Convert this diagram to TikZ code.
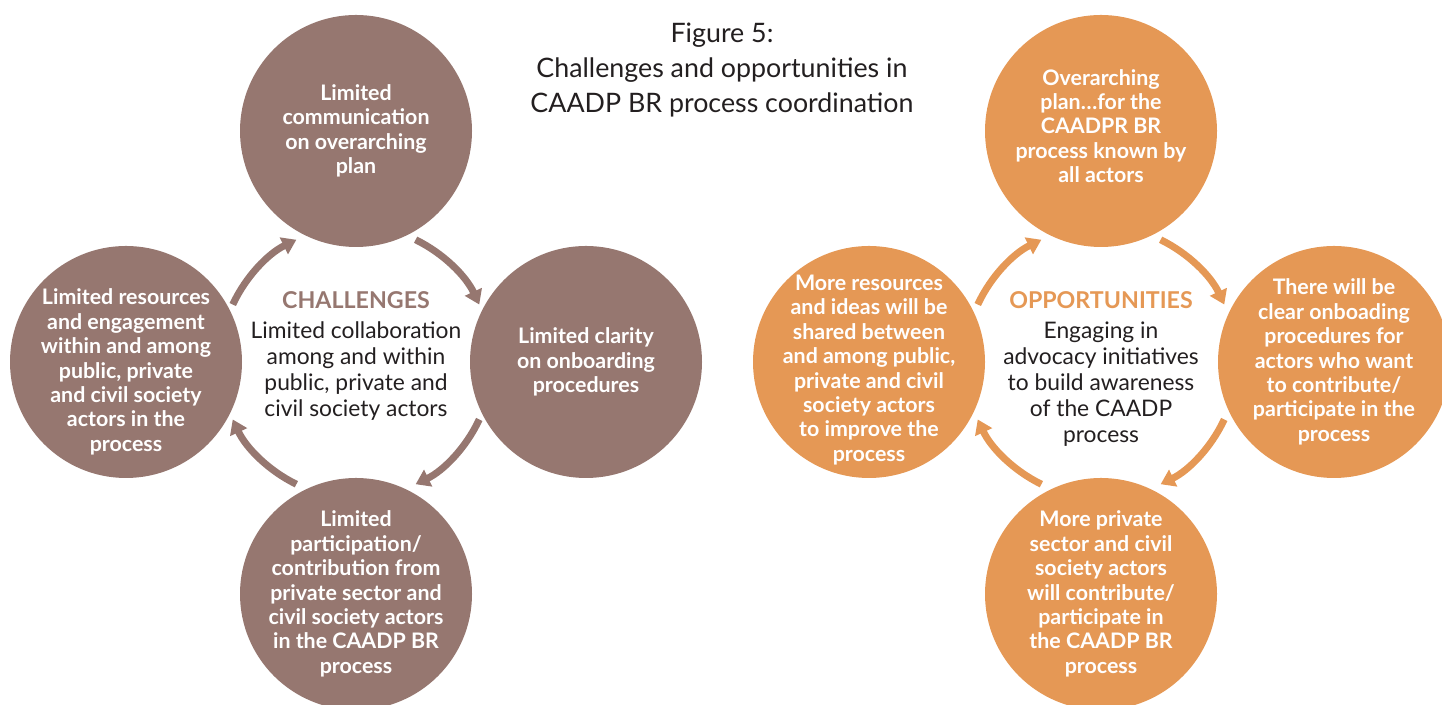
\documentclass[tikz,border=0pt]{standalone}
\usepackage{fontspec}
\setmainfont{Lato}
\usepackage{tikz}
\usetikzlibrary{positioning}
\usetikzlibrary{arrows.meta}
\definecolor{chalbrown}{HTML}{967770}
\definecolor{oppsorange}{HTML}{E59855}
\definecolor{textgrey}{HTML}{231F20}
\tikzstyle{circle1} = [circle, minimum size=116pt, inner sep=-15pt, outer sep=0pt, fill=chalbrown, text=white, align=center, font=\bfseries\fontsize{10.7}{12.2}\selectfont]
\tikzstyle{circle2} = [circle1, fill=oppsorange]
\tikzstyle{midtext} = [align=center, anchor=north, text=textgrey, font=\fontsize{11.4}{13}\selectfont]
\tikzstyle{arrow1} = [-{Triangle[width=9pt,length=7pt]}, line width=3.5pt, chalbrown]
\tikzstyle{arrow2} = [arrow1, oppsorange]

\begin{document}
\begin{tikzpicture}
			\useasboundingbox (0,0) rectangle (721pt,352.5pt);
			\node[align=center, text=textgrey, font=\fontsize{13.4}{17.5}\selectfont] (title) at (361pt,317.5pt) {Figure 5:\\Challenges and opportunities in\\CAADP BR process coordination};
			% challenges
			\coordinate (chalmid) at (178pt,171.5pt);
			\node[midtext] (chal) at ([yshift=39pt]chalmid) {{\bfseries\color{chalbrown}\fontsize{11.6}{13}\selectfont CHALLENGES}\\[2pt]Limited collaboration\\among and within\\public, private and\\civil society actors};
			\node[circle1, above=57.5pt of chalmid](chaltop){Limited\\communication\\on overarching\\plan};
			\node[circle1, right=57pt of chalmid](chalright){Limited clarity\\on onboarding\\procedures};
			\node[circle1, below=58pt of chalmid](chalbottom){Limited\\participation/\\contribution from\\private sector and\\civil society actors\\in the CAADP BR\\process};
			\node[circle1, left=57pt of chalmid](challeft){\rule{0pt}{18pt}Limited resources\\and engagement\\within and among\\public, private\\and civil society\\actors in the\\process};
			\foreach \a in {155,64,-25,-116}
				\draw[arrow1] (chalmid) ++(\a:68pt) arc[start angle=\a, end angle=\a-39, radius=68pt];
			% opportunities
			\coordinate (oppsmid) at (550.5pt,171.5pt);
			\node[midtext] (opps) at ([yshift=39pt]oppsmid) {{\bfseries\color{oppsorange}\fontsize{11.6}{13}\selectfont OPPORTUNITIES}\\[2pt]Engaging in\\advocacy initiatives\\to build awareness\\of the CAADP\\process};
			\node[circle2, above=57.5pt of oppsmid](oppstop){Overarching\\plan…for the\\CAADPR BR\\process known by\\all actors\rule[-5pt]{0pt}{5pt}};
			\node[circle2, right=58.5pt of oppsmid](oppsright){There will be\\clear onboading\\procedures for\\actors who want\\to contribute/\\participate in the\\process};
			\node[circle2, below=58pt of oppsmid](oppsbottom){More private\\sector and civil\\society actors\\will contribute/\\participate in\\the CAADP BR\\process};
			\node[circle2, left=58pt of oppsmid](oppsleft){\rule{0pt}{15.7pt}More resources\\and ideas will be\\shared between\\and among public,\\private and civil\\society actors\\to improve the\\process};
			\foreach \a in {155,64,-25,-116}
				\draw[arrow2] (oppsmid) ++(\a:68pt) arc[start angle=\a, end angle=\a-39, radius=68pt];
		\end{tikzpicture}
\end{document}
